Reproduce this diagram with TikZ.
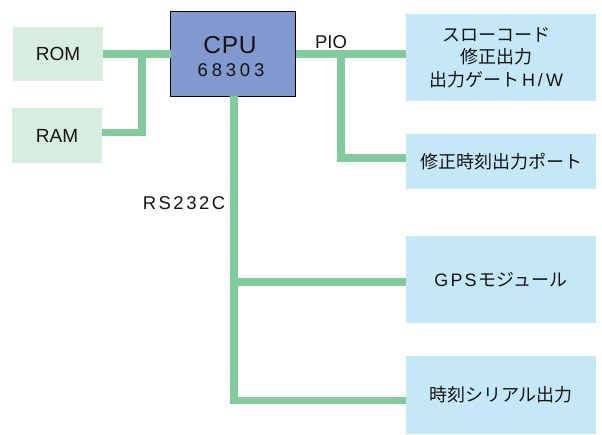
\documentclass[tikz,border=0pt]{standalone}
\usepackage{fontspec}
\setmainfont{Liberation Sans}
\newfontfamily\jp{Noto Sans CJK JP}
\makeatletter
\newcommand\trk[2]{\def\trk@k{#1}\@tfor\trk@c:=#2\do{\trk@c\kern\trk@k}\unkern}
\makeatother
\definecolor{busgreen}{HTML}{82CB9D}
\definecolor{memfill}{HTML}{D7EDDF}
\definecolor{iofill}{HTML}{C5E8F8}
\definecolor{cpufill}{HTML}{8199CE}
\definecolor{ink}{HTML}{141414}
\tikzset{
  bus/.style={draw=busgreen, line width=7.5pt, line cap=butt, line join=miter},
  membox/.style={fill=memfill, inner sep=0pt, outer sep=0pt, minimum width=90pt, text=ink, font=\fontsize{19}{22}\selectfont},
  iobox/.style={fill=iofill, inner sep=0pt, outer sep=0pt, minimum width=190pt, text=ink, font=\jp\fontsize{18}{22.5}\selectfont, align=center},
  cpubox/.style={fill=cpufill, draw=black, line width=1pt, inner sep=0pt, outer sep=0pt, minimum width=125pt, minimum height=85pt},
  lbl/.style={inner sep=0pt, text=ink, font=\fontsize{18.5}{21}\selectfont}
}
\begin{document}
\begin{tikzpicture}[x=1pt, y=-1pt]
\useasboundingbox (0,0) rectangle (602,435);
% nodes
\node[membox, minimum height=54pt] (rom) at (58,54) {ROM};
\node[membox, minimum height=55pt] (ram) at (57,135.5) {RAM};
\node[cpubox] (cpu) at (233,54) {};
\node[lbl, font=\fontsize{24.5}{28}\selectfont] (cputxt) at (230,45.5) {\trk{0.8pt}{CPU}};
\node[lbl] (cpunum) at (231,70.5) {\trk{3.8pt}{68303}};
\node[iobox, minimum height=87pt] (slow) at (501,57.5) {};
\node[lbl, font=\jp\fontsize{18}{22.5}\selectfont, align=center] (slowtxt) at (496,57.5)
  {スローコード\\修正出力\\出力ゲート\kern3pt{\rmfamily\trk{3pt}{H/W}}};
\node[iobox, minimum height=55pt] (port) at (501,161.5) {修正時刻出力ポート};
\node[iobox, minimum height=87pt] (gps) at (501,279.5) {{\rmfamily\trk{2.2pt}{GPS}}\kern2.2pt モジュール};
\node[iobox, minimum height=78pt] (ser) at (501,395) {時刻シリアル出力};
\node[lbl] (pio) at (331,42) {PIO};
\node[lbl] (rs) at (184,203) {\trk{2.5pt}{RS232C}};
% junctions
\coordinate (jm) at (142,54);
\coordinate (jp) at (341,54);
% buses
\draw[bus] (rom.east) -- (cpu.west);
\draw[bus] ([yshift=3pt]ram.east) -| (jm);
\draw[bus] (cpu.east) -- (cpu.east -| slow.west);
\draw[bus] (jp) |- ([yshift=3.5pt]port.west);
\draw[bus] ([xshift=1pt]cpu.south) |- ([yshift=-5.5pt]ser.west);
\draw[bus] ([xshift=1pt]cpu.south |- gps.west) ++(0,2.5) -- ([yshift=-2.5pt]gps.west);
\end{tikzpicture}
\end{document}
